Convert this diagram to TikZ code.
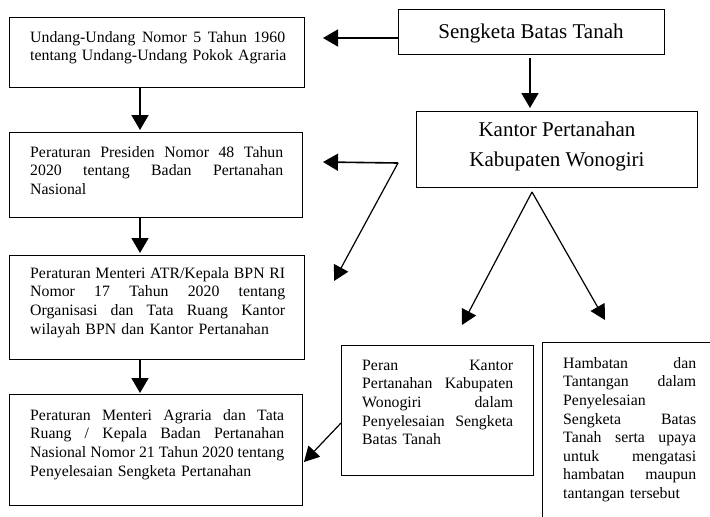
\documentclass[tikz,border=0pt]{standalone}
\usepackage{fontspec}
\setmainfont{Liberation Serif}
\usetikzlibrary{arrows.meta}
\newcommand{\tw}{255pt}
\newcommand{\J}[1]{{\spaceskip=0pt\xspaceskip=0pt\makebox[\tw][s]{#1}}}
\begin{document}
\begin{tikzpicture}[x=1pt,y=-1pt,
 box/.style={draw, line width=1pt, inner sep=0, anchor=north west},
 txt/.style={anchor=north west, inner sep=0, align=left, text width=#1+8pt,
   execute at begin node={\renewcommand{\tw}{#1}},
   font=\fontsize{15.8}{18.6}\selectfont},
 big/.style={font=\fontsize{21}{30}\selectfont, align=center, inner sep=0},
 arr/.style={line width=1.6pt, -{Triangle[length=15pt,width=17pt]}},
 darr/.style={line width=1.2pt, -{Triangle[length=15pt,width=16pt]}}]
\useasboundingbox (0,0) rectangle (710,517);
% boxes
\node[box, minimum width=295pt, minimum height=70pt] (uu) at (9,17) {};
\node[box, minimum width=293pt, minimum height=85pt] (pp) at (9,132) {};
\node[box, minimum width=295pt, minimum height=104pt] (pm) at (9,255) {};
\node[box, minimum width=293pt, minimum height=111pt] (pa) at (9,394) {};
\node[box, minimum width=266pt, minimum height=45pt] (sk) at (398,9) {};
\node[box, minimum width=281pt, minimum height=76pt] (kp) at (416,111) {};
\node[box, minimum width=192pt, minimum height=130pt] (pr) at (341,345) {};
\node[box, minimum width=200pt, minimum height=200pt] (hb) at (542,342) {};
% texts
\node[txt=255pt] (uut) at (30,29) {\strut\J{Undang-Undang Nomor 5 Tahun 1960}\\tentang Undang-Undang Pokok Agraria};
\node[txt=253pt] (ppt) at (30,144) {\strut\J{Peraturan Presiden Nomor 48 Tahun}\\\J{2020 tentang Badan Pertanahan}\\Nasional};
\node[txt=255pt] (pmt) at (30,265) {\strut\J{Peraturan Menteri ATR/Kepala BPN RI}\\\J{Nomor 17 Tahun 2020 tentang}\\\J{Organisasi dan Tata Ruang Kantor}\\wilayah BPN dan Kantor Pertanahan};
\node[txt=254pt] (pat) at (30,407) {\strut\J{Peraturan Menteri Agraria dan Tata}\\\J{Ruang / Kepala Badan Pertanahan}\\\J{Nasional Nomor 21 Tahun 2020 tentang}\\Penyelesaian Sengketa Pertanahan};
\node[txt=151pt] (prt) at (362,357) {\strut\J{Peran Kantor}\\\J{Pertanahan Kabupaten}\\\J{Wonogiri dalam}\\\J{Penyelesaian Sengketa}\\Batas Tanah};
\node[txt=133pt] (hbt) at (563,355) {\strut\J{Hambatan dan}\\\J{Tantangan dalam}\\Penyelesaian\\\J{Sengketa Batas}\\\J{Tanah serta upaya}\\\J{untuk mengatasi}\\\J{hambatan maupun}\\tantangan tersebut};
\node[big] (skt) at (531,33) {Sengketa Batas Tanah};
\node[big] (kpt) at (557,146) {Kantor Pertanahan\\Kabupaten Wonogiri};
% free ends
\coordinate (ax) at (140,0);
\coordinate (t1) at (323,38);
\coordinate (kpl) at (398,163);
\coordinate (t2) at (323,162);
\coordinate (t3) at (334,281);
\coordinate (apex) at (532,192);
\coordinate (t4) at (462,325);
\coordinate (t5) at (605,320);
\coordinate (prl) at (341,423);
\coordinate (t6) at (304,462);
% connectors
\draw[arr] (uu.south -| ax) -- ([yshift=2pt]pp.north -| ax);
\draw[arr] (pp.south -| ax) -- ([yshift=2pt]pm.north -| ax);
\draw[arr] (pm.south -| ax) -- ([yshift=1pt]pa.north -| ax);
\draw[arr] (sk.west |- t1) -- (t1);
\draw[arr, shorten <=3pt, shorten >=3pt] (sk.south -| 530,0) -- (kp.north -| 530,0);
\draw[arr] (kpl) -- (t2);
\draw[darr] (kpl) -- (t3);
\draw[darr] (apex) -- (t4);
\draw[darr] (apex) -- (t5);
\draw[darr] (prl) -- (t6);
\end{tikzpicture}
\end{document}
